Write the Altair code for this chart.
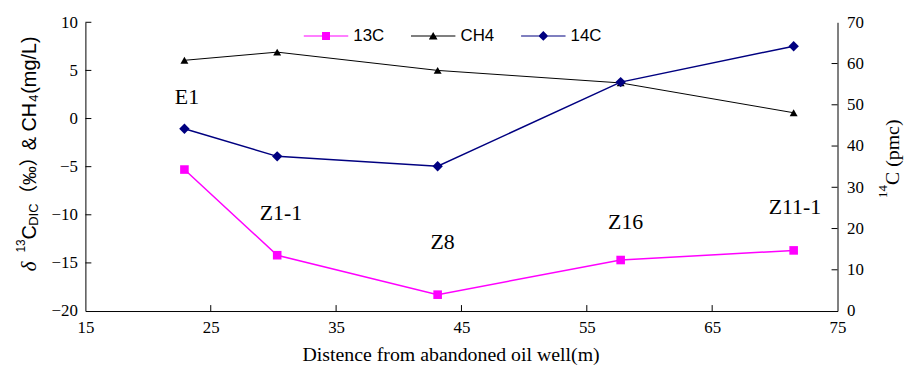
import altair as alt
import pandas as pd

# ---- data ----
wells = ["E1", "Z1-1", "Z8", "Z16", "Z11-1"]
distance = [22.9, 30.3, 43.1, 57.7, 71.5]
c13 = [-5.3, -14.2, -18.3, -14.7, -13.7]
ch4 = [6.05, 6.9, 5.0, 3.7, 0.6]
c14 = [44.2, 37.5, 35.1, 55.5, 64.2]
label_x = [23.1, 30.6, 43.5, 58.1, 71.6]
label_y = [1.5, -10.5, -13.6, -11.5, -9.9]

series_names = ["13C", "CH4", "14C"]
series_colors = ["#FF00FF", "#000000", "#000080"]
legend_paths = [
    "M-2.8,-0.07H2.8V0.07H-2.8ZM-0.5,-0.5H0.5V0.5H-0.5Z",
    "M-2.8,-0.07H2.8V0.07H-2.8ZM0,-0.5L0.55,0.45H-0.55Z",
    "M-2.8,-0.07H2.8V0.07H-2.8ZM0,-0.62L0.62,0L0,0.62L-0.62,0Z",
]

x_ticks = [15, 25, 35, 45, 55, 65, 75]
left_ticks = [-20, -15, -10, -5, 0, 5, 10]
right_ticks = [0, 10, 20, 30, 40, 50, 60, 70]

W, H = 758, 291
TICK = 6

df = pd.DataFrame({
    "well": wells, "dist": distance, "c13": c13, "ch4": ch4, "c14": c14,
    "lx": label_x, "ly": label_y,
})

AX = dict(grid=False, ticks=False, tickSize=0, domainColor="black", domainWidth=1,
          labelFont="Liberation Serif", labelFontSize=17, labelColor="black",
          labelOverlap=False)

xscale = alt.Scale(domain=[15, 75], nice=False, zero=False)
xaxis = alt.Axis(values=x_ticks, title="Distence from abandoned oil well(m)",
                 titleFont="Liberation Serif", titleFontSize=20, titleFontWeight="normal",
                 titleColor="black", titleX=368, titleY=50, titleBaseline="alphabetic",
                 labelFlush=False, labelPadding=9, format="d", **AX)
yl_scale = alt.Scale(domain=[-20, 10], nice=False, zero=False)
yl_axis = alt.Axis(values=left_ticks, title=None, orient="left", labelPadding=8, format="d", **AX)
yr_scale = alt.Scale(domain=[0, 70], nice=False, zero=False)
yr_axis = alt.Axis(values=right_ticks, title=None, orient="right", labelPadding=9, format="d", **AX)


def X(f):
    return alt.X(f"{f}:Q", scale=xscale, axis=xaxis)


def YL(f):
    return alt.Y(f"{f}:Q", scale=yl_scale, axis=yl_axis)


def YR(f):
    return alt.Y(f"{f}:Q", scale=yr_scale, axis=yr_axis)


base = alt.Chart(df)

line13 = base.mark_line(color="#FF00FF", strokeWidth=1.5).encode(x=X("dist"), y=YL("c13"))
pts13 = base.mark_point(shape="square", filled=True, size=75, color="#FF00FF", opacity=1).encode(
    x=X("dist"), y=YL("c13"))
line_ch4 = base.mark_line(color="black", strokeWidth=1).encode(x=X("dist"), y=YL("ch4"))
pts_ch4 = base.mark_point(shape="triangle-up", filled=True, size=64, color="black", opacity=1).encode(
    x=X("dist"), y=YL("ch4"))
labels = base.mark_text(font="Liberation Serif", fontSize=22, align="center",
                        baseline="alphabetic", color="black").encode(
    x=X("lx"), y=YL("ly"), text="well:N")

xt = alt.Chart(pd.DataFrame({"t": x_ticks[1:-1]})).mark_rule(color="black").encode(
    x=X("t"), y=alt.value(H - TICK), y2=alt.value(H))
ylt = alt.Chart(pd.DataFrame({"t": left_ticks[1:]})).mark_rule(color="black").encode(
    y=YL("t"), x=alt.value(0), x2=alt.value(TICK))

LEG = alt.Legend(title=None, orient="none", legendX=234, legendY=5, direction="horizontal",
                 symbolSize=256, symbolStrokeWidth=0, symbolOpacity=1, labelOffset=19,
                 columnPadding=26, padding=0, labelFont="Liberation Sans", labelFontSize=17,
                 labelColor="black", labelLimit=0)
leg = alt.Chart(pd.DataFrame({"series": series_names})).transform_filter("false").mark_point(
    filled=True, opacity=1).encode(
    color=alt.Color("series:N", scale=alt.Scale(domain=series_names, range=series_colors), legend=LEG),
    shape=alt.Shape("series:N", scale=alt.Scale(domain=series_names, range=legend_paths), legend=LEG),
)


def piece(text, xpos, ypos, dx, dy, size, font, italic=False):
    return alt.Chart(pd.DataFrame({"a": [0]})).mark_text(
        text=text, angle=270, align="left", baseline="alphabetic", dx=dx, dy=dy,
        font=font, fontSize=size, fontStyle="italic" if italic else "normal", color="black",
    ).encode(x=alt.value(xpos), y=alt.value(ypos))


LX, LY = -50, 251
SANS = "Liberation Sans, Noto Sans CJK SC"
left_title = [
    piece("δ", LX, LY, 0, 0, 21, "Liberation Serif", italic=True),
    piece("13", LX, LY, 19, -11, 12, SANS),
    piece("C", LX, LY, 32, 0, 20, SANS),
    piece("DIC", LX, LY, 46, 2, 13, SANS),
    piece("（‰）", LX, LY, 68, 0, 19, SANS),
    piece("& CH", LX, LY, 122, 0, 20, SANS),
    piece("4", LX, LY, 171, 2, 13, SANS),
    piece("(mg/L)", LX, LY, 179, 0, 20, SANS),
]

RX, RY = 820, 177
right_title = [
    piece("14", RX, RY, 0, -12, 13, "Liberation Serif"),
    piece("C (pmc)", RX, RY, 13, 0, 20, "Liberation Serif"),
]

left = alt.layer(line13, line_ch4, pts13, pts_ch4, labels, xt, ylt, leg, *left_title)

line14 = base.mark_line(color="#000080", strokeWidth=1.5).encode(x=X("dist"), y=YR("c14"))
pts14 = base.mark_point(shape="diamond", filled=True, size=110, color="#000080", opacity=1).encode(
    x=X("dist"), y=YR("c14"))
yrt = alt.Chart(pd.DataFrame({"t": right_ticks[1:-1]})).mark_rule(color="black").encode(
    y=YR("t"), x=alt.value(W - TICK), x2=alt.value(W))
right = alt.layer(line14, pts14, yrt, *right_title)

chart = alt.layer(left, right).resolve_scale(y="independent").properties(
    width=W, height=H,
    background="white",
    autosize=alt.AutoSizeParams(type="none"),
    padding={"left": 78, "top": 13, "right": 67, "bottom": 55},
).configure_view(stroke=None)

chart.save("out.html", embed_options={"renderer": "svg", "actions": False})
